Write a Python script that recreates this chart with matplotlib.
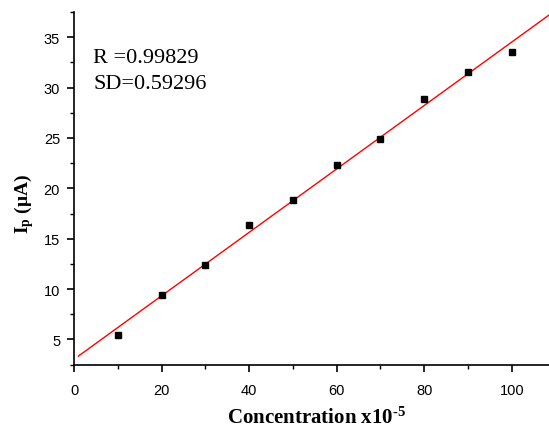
import numpy as np
import matplotlib
matplotlib.use('Agg')
import matplotlib.pyplot as plt
from matplotlib.ticker import MultipleLocator

plt.rcParams['mathtext.fontset'] = 'custom'
plt.rcParams['mathtext.rm'] = 'Liberation Serif'
plt.rcParams['mathtext.bf'] = 'Liberation Serif:bold'
plt.rcParams['mathtext.it'] = 'Liberation Serif:italic'

# data
concentration = [10, 20, 30, 40, 50, 60, 70, 80, 90, 100]
current = [5.43, 9.40, 12.35, 16.40, 18.80, 22.30, 24.90, 28.85, 31.55, 33.53]
fit_range = [1, 110]

slope, intercept = np.polyfit(concentration, current, 1)
fit_x = np.array(fit_range)
fit_y = slope * fit_x + intercept

fig = plt.figure(figsize=(5.49, 4.27), dpi=100)
ax = fig.add_axes([0.1348, 0.1436, 0.8652, 0.826])

ax.plot(fit_x, fit_y, color='red', lw=1.0)
ax.plot(concentration, current, 'ks', markersize=4.5)

ax.set_xlim(0, 108.5)
ax.set_ylim(2.5, 37.5)
ax.xaxis.set_major_locator(MultipleLocator(20))
ax.xaxis.set_minor_locator(MultipleLocator(10))
ax.yaxis.set_major_locator(MultipleLocator(5))
ax.yaxis.set_minor_locator(MultipleLocator(2.5))
ax.tick_params(which='major', length=5, width=1.2, labelsize=10.5,
               direction='out', pad=5)
ax.tick_params(axis='x', which='major', pad=8)
ax.tick_params(which='minor', length=3, width=1.0, direction='out')
for lab in ax.get_xticklabels() + ax.get_yticklabels():
    lab.set_fontfamily('Liberation Sans')

ax.spines['top'].set_visible(False)
ax.spines['right'].set_visible(False)
ax.spines['left'].set_linewidth(1.2)
ax.spines['bottom'].set_linewidth(1.2)

ax.set_xlabel(r'Concentration x10$^{\mathbf{\text{-}5}}$', fontsize=15,
              fontweight='bold', fontfamily='Liberation Serif')
ax.xaxis.set_label_coords(0.51, -0.118)
ax.set_ylabel(r'$\mathbf{I_p}$ $\mathbf{(\mu A)}$', fontsize=14,
              fontfamily='Liberation Serif')
ax.yaxis.set_label_coords(-0.08, 0.458)

ax.text(0.04, 0.897, 'R =0.99829\nSD=0.59296', transform=ax.transAxes,
        fontsize=16, fontfamily='Liberation Serif', va='top', ha='left',
        linespacing=1.45)

fig.savefig('out.png', dpi=100)
